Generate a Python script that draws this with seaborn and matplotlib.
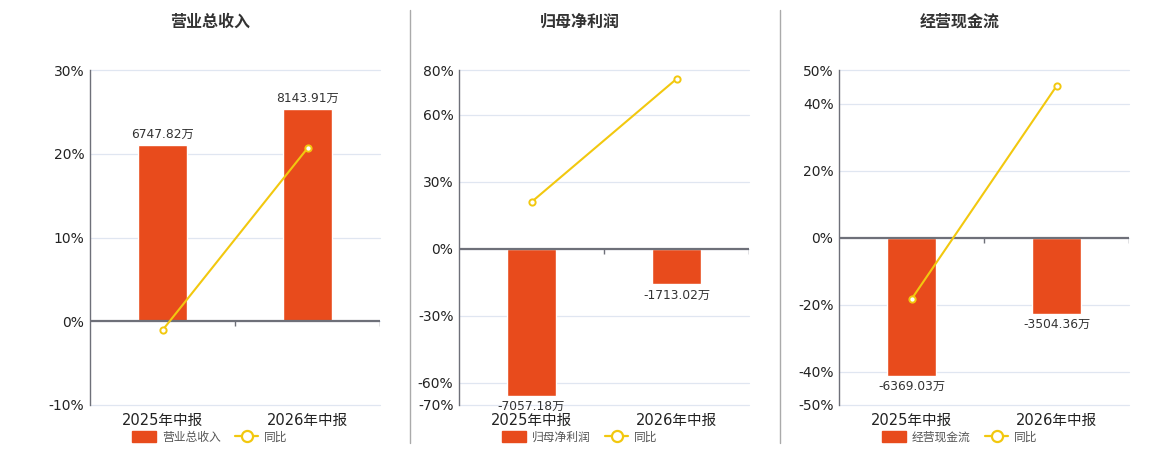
import matplotlib
matplotlib.use("Agg")
import matplotlib.pyplot as plt
import seaborn as sns
from matplotlib.patches import Patch
from matplotlib.lines import Line2D

# ----------------------------------------
# Data
# ----------------------------------------
periods = ["2025年中报", "2026年中报"]

titles = ["营业总收入", "归母净利润", "经营现金流"]

revenue = [6747.82, 8143.91]        # 万
revenue_yoy = [-1.07, 20.66]        # %
profit = [-7057.18, -1713.02]
profit_yoy = [20.9, 76.0]
cashflow = [-6369.03, -3504.36]
cashflow_yoy = [-18.4, 45.2]

ticks_1 = [-10, 0, 10, 20, 30]
ticks_2 = [-70, -60, -30, 0, 30, 60, 80]
ticks_3 = [-50, -40, -20, 0, 20, 40, 50]

# ----------------------------------------
# Style
# ----------------------------------------
sns.set_style("white")
plt.rcParams["font.family"] = ["DejaVu Sans", "Noto Sans CJK SC"]

BAR = "#e84b1c"
LINE = "#f2c80f"
AXIS = "#6e7079"
GRID = "#e0e6f1"
TXT = "#333333"

fig = plt.figure(figsize=(11.6, 4.5), dpi=100)

panels = [
    (titles[0], revenue, revenue_yoy, ticks_1, 321.0, 90, 210),
    (titles[1], profit, profit_yoy, ticks_2, 107.0, 459, 580),
    (titles[2], cashflow, cashflow_yoy, ticks_3, 154.0, 839, 960),
]

for name, vals, yoy, ticks, k, left_px, center_px in panels:
    ax = fig.add_axes([left_px / 1160, 0.10, 290 / 1160, 335 / 450])
    axb = ax.twinx()
    ymin, ymax = min(ticks), max(ticks)

    # bars on the hidden axis (behind)
    sns.barplot(x=periods, y=vals, ax=axb, color=BAR, width=0.34,
                saturation=1, zorder=2)
    axb.set_ylim(ymin * k, ymax * k)
    axb.set_yticks([t * k for t in ticks])
    axb.grid(axis="y", color=GRID, lw=0.9)
    for gl in axb.get_ygridlines():
        gl.set_clip_on(False)
    axb.set_axisbelow(True)
    axb.tick_params(axis="y", labelright=False, length=0)
    for s in axb.spines.values():
        s.set_visible(False)
    axb.bar_label(axb.containers[0], labels=[f"{v:.2f}万" for v in vals],
                  padding=3, fontsize=8.8, color=TXT)

    # yoy line on top axis
    ax.set_zorder(axb.get_zorder() + 1)
    ax.patch.set_visible(False)
    sns.lineplot(x=periods, y=yoy, ax=ax, color=LINE, lw=1.5, marker="o",
                 markersize=4.5, markerfacecolor="white",
                 markeredgecolor=LINE, markeredgewidth=1.4, zorder=5)
    ax.set_ylim(ymin, ymax)
    ax.set_yticks(ticks)
    ax.set_yticklabels([f"{t}%" for t in ticks])
    ax.set_xlim(-0.5, 1.5)
    axb.set_xlim(-0.5, 1.5)
    ax.axhline(0, color=AXIS, lw=1.6, zorder=4)
    tick_len = (ymax - ymin) / 335 * 5
    ax.vlines([0.5, 1.5], -tick_len, 0, color=AXIS, lw=1, zorder=4)

    ax.tick_params(axis="y", length=0, labelsize=10, colors="#222222", pad=4)
    ax.tick_params(axis="x", length=0, labelsize=10.5, colors="#222222", pad=6)
    axb.tick_params(axis="x", length=0, labelbottom=False)
    for s in ["top", "right", "bottom"]:
        ax.spines[s].set_visible(False)
    ax.spines["left"].set_color(AXIS)
    ax.spines["left"].set_linewidth(1)
    ax.set_xlabel("")
    ax.set_ylabel("")
    axb.set_ylabel("")

    fig.text(center_px / 1160, 1 - 22 / 450, name, ha="center", va="center",
             fontsize=11.5, fontweight="bold", color=TXT)

    handles = [
        Patch(facecolor=BAR, edgecolor=BAR),
        Line2D([0], [0], color=LINE, lw=1.6, marker="o", markersize=8,
               markerfacecolor="white", markeredgecolor=LINE,
               markeredgewidth=1.6),
    ]
    fig.legend(handles, [name, "同比"], loc="center", ncol=2,
               bbox_to_anchor=(center_px / 1160, 1 - 437 / 450),
               frameon=False, fontsize=8.5, labelcolor="#555555",
               handlelength=2.0, handleheight=1.0, columnspacing=1.2,
               handletextpad=0.5)

# separators between panels
for x_px in [410, 780]:
    fig.add_artist(Line2D([x_px / 1160] * 2, [1 - 10 / 450, 1 - 443 / 450],
                          color="#aaaaaa", lw=1))

fig.savefig("out.png", dpi=100)
